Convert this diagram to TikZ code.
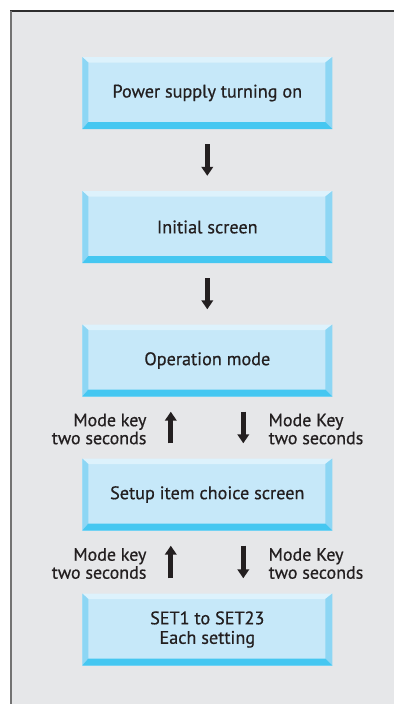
\documentclass[tikz,border=0pt]{standalone}
\usepackage{fontspec}
\setmainfont{PT Sans}
\newfontfamily\chartfont{PT Sans}[FakeBold=0.6]
\usetikzlibrary{arrows.meta}

\definecolor{panel}{HTML}{E6E7E9}
\definecolor{panelleft}{HTML}{737373}
\definecolor{paneltop}{HTML}{2E2E2E}
\definecolor{face}{HTML}{C6E8F9}
\definecolor{bevtop}{HTML}{DDF2FC}
\definecolor{bevside}{HTML}{8DD6F4}
\definecolor{bevbottom}{HTML}{45C7F1}
\definecolor{ink}{HTML}{231F20}

\tikzset{
  bevelbox/.style={
    rectangle, minimum width=250pt, minimum height=72pt, inner sep=0pt,
    fill=face, align=center, text=ink,
    font=\chartfont\fontsize{18.2}{19.5}\selectfont,
    path picture={
      % top, left, right and bottom bevel faces
      \fill[bevtop]
        (path picture bounding box.north west) --
        (path picture bounding box.north east) --
        ([xshift=-7pt,yshift=-5.5pt]path picture bounding box.north east) --
        ([xshift=6pt,yshift=-5.5pt]path picture bounding box.north west) -- cycle;
      \fill[bevside]
        (path picture bounding box.north west) --
        ([xshift=6pt,yshift=-5.5pt]path picture bounding box.north west) --
        ([xshift=6pt,yshift=7pt]path picture bounding box.south west) --
        (path picture bounding box.south west) -- cycle;
      \fill[bevside]
        (path picture bounding box.north east) --
        ([xshift=-7pt,yshift=-5.5pt]path picture bounding box.north east) --
        ([xshift=-7pt,yshift=7pt]path picture bounding box.south east) --
        (path picture bounding box.south east) -- cycle;
      \fill[bevbottom]
        (path picture bounding box.south west) --
        ([xshift=6pt,yshift=7pt]path picture bounding box.south west) --
        ([xshift=-7pt,yshift=7pt]path picture bounding box.south east) --
        (path picture bounding box.south east) -- cycle;
    }
  },
  flow/.style={
    draw=ink, line width=4.8pt,
    -{Triangle[width=11.5pt,length=9pt]},
    shorten <=15pt, shorten >=15pt
  },
  keylabel/.style={
    text=ink, inner sep=0pt,
    font=\chartfont\fontsize{18}{18}\selectfont
  },
  keylabelL/.style={keylabel, align=right, anchor=east, xshift=-22pt, yshift=-1.5pt},
  keylabelR/.style={keylabel, align=left, anchor=west, xshift=23pt, yshift=-1.5pt}
}

\begin{document}
\begin{tikzpicture}[x=1pt,y=-1pt]
  \useasboundingbox (0,0) rectangle (394,704);

  % background panel with its border lines
  \fill[panel] (11,11) rectangle (394,704);
  \draw[paneltop, line width=1.2pt] (10,11) -- (394,11);
  \draw[panelleft, line width=2pt] (11,10.5) -- (11,704);

  % flow boxes
  \node[bevelbox] (power) at (207.3,93)    {Power supply turning on};
  \node[bevelbox] (init)  at (207.3,227)   {Initial screen};
  \node[bevelbox] (oper)  at (207.3,360.5) {Operation mode};
  \node[bevelbox] (setup) at (207.3,494.5) {Setup item choice screen};
  \node[bevelbox] (each)  at (207.3,629.5) {SET1 to SET23\\Each setting};

  % start-up sequence
  \draw[flow] (power) -- (init);
  \draw[flow] (init) -- (oper);

  % mode key transitions
  \draw[flow] ([xshift=-36.5pt]setup.north) -- node[keylabelL] {Mode key\\two seconds} ([xshift=-36.5pt]oper.south);
  \draw[flow] ([xshift=36pt]oper.south) -- node[keylabelR] {Mode Key\\two seconds} ([xshift=36pt]setup.north);
  \draw[flow] ([xshift=-36.5pt]each.north) -- node[keylabelL] {Mode key\\two seconds} ([xshift=-36.5pt]setup.south);
  \draw[flow] ([xshift=36pt]setup.south) -- node[keylabelR] {Mode Key\\two seconds} ([xshift=36pt]each.north);
\end{tikzpicture}
\end{document}
